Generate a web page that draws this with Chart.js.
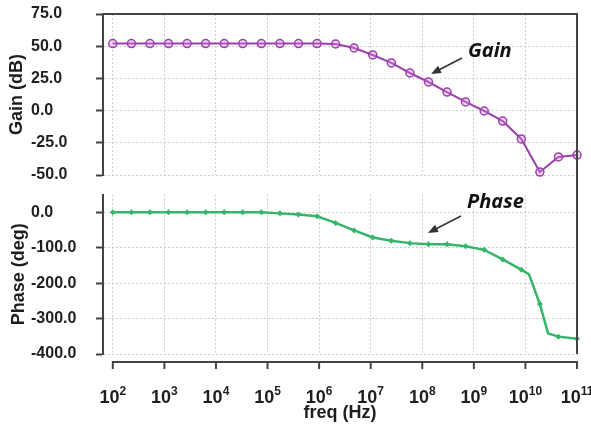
<!DOCTYPE html>
<html>
<head>
<meta charset="utf-8">
<script src="https://cdn.jsdelivr.net/npm/chart.js@4.4.0/dist/chart.umd.min.js"></script>
<style>
  body { margin: 0; background: #fff; }
  #wrap { position: relative; width: 591px; height: 426px; }
  #gainChart { position: absolute; left: 0; top: 0; }
  #phaseChart { position: absolute; left: 0; top: 185px; }
</style>
</head>
<body>
<div id="wrap">
  <canvas id="gainChart" width="591" height="185"></canvas>
  <canvas id="phaseChart" width="591" height="241"></canvas>
</div>
<script>
// x values are log10(freq in Hz), one per marker
var logFreq = [2.00, 2.36, 2.72, 3.08, 3.44, 3.80, 4.16, 4.52, 4.88, 5.24, 5.60, 5.96, 6.32,
               6.68, 7.04, 7.40, 7.76, 8.12, 8.48, 8.84, 9.20, 9.56, 9.92, 10.28, 10.64, 11.00];
var gainDb = [52, 52, 52, 52, 52, 52, 52, 52, 52, 52, 52, 52, 51.7,
              48.6, 43.2, 37.0, 29.2, 22.2, 14.4, 6.7, -0.3, -8.1, -22.0, -47.7, -36.0, -34.5];
var phaseDeg = [0, 0, 0, 0, 0, 0, 0, 0, 0, -3, -6, -11, -30,
                -51, -71, -80, -87, -90, -90, -96, -106, -133, -162, -259, -351, -357];
// line-only points where the phase curve bends
var phaseBendFreq = [10.07, 10.44];
var phaseBendDeg = [-175, -342];

var decades = [2, 3, 4, 5, 6, 7, 8, 9, 10, 11];
var gainTicks = [-50, -25, 0, 25, 50, 75];
var phaseTicks = [-400, -300, -200, -100, 0];

var gainColor = '#9c3fae';
var phaseColor = '#35b56a';
var gridColor = 'rgba(210,195,195,0.9)';
var axisColor = '#444';
var textColor = '#1e1e1e';
var sans = '"Liberation Sans", Arial, sans-serif';

var gainPoints = logFreq.map(function (f, i) { return { x: f, y: gainDb[i] }; });
var phasePoints = logFreq.map(function (f, i) { return { x: f, y: phaseDeg[i], mark: true }; });
phaseBendFreq.forEach(function (f, i) { phasePoints.push({ x: f, y: phaseBendDeg[i], mark: false }); });
phasePoints.sort(function (a, b) { return a.x - b.x; });

function xScale(hidden) {
  return {
    type: 'linear', min: 1.81, max: 11,
    afterBuildTicks: function (s) { s.ticks = decades.map(function (v) { return { value: v }; }); },
    afterFit: function (s) { s.height = hidden ? 0 : 72; },
    ticks: { display: false },
    grid: { color: gridColor, drawTicks: false },
    border: { display: false, dash: [2, 2] },
    title: {
      display: !hidden, text: 'freq (Hz)', color: textColor,
      font: { family: sans, size: 18, weight: 'bold' }, padding: { top: 0, bottom: 2 }
    }
  };
}

function yScale(min, max, ticks, label, titlePad) {
  return {
    min: min, max: max,
    afterBuildTicks: function (s) { s.ticks = ticks.map(function (v) { return { value: v }; }); },
    afterFit: function (s) { s.width = 72; },
    ticks: {
      crossAlign: 'far', padding: 0, color: textColor,
      font: { family: sans, size: 16, weight: 'bold' },
      callback: function (v) { return v.toFixed(1); }
    },
    grid: { color: gridColor, tickLength: 7, tickColor: axisColor, tickWidth: 2, tickBorderDash: [] },
    border: { display: true, color: axisColor, width: 2, dash: [2, 2] },
    title: {
      display: true, text: label, color: textColor,
      font: { family: sans, size: 18, weight: 'bold' }, padding: { top: titlePad, bottom: 0 }
    }
  };
}

function arrow(ctx, x1, y1, x2, y2) {
  var a = Math.atan2(y2 - y1, x2 - x1);
  ctx.beginPath();
  ctx.moveTo(x1, y1);
  ctx.lineTo(x2 - 6 * Math.cos(a), y2 - 6 * Math.sin(a));
  ctx.stroke();
  ctx.beginPath();
  ctx.moveTo(x2, y2);
  ctx.lineTo(x2 - 10 * Math.cos(a) + 4 * Math.sin(a), y2 - 10 * Math.sin(a) - 4 * Math.cos(a));
  ctx.lineTo(x2 - 10 * Math.cos(a) - 4 * Math.sin(a), y2 - 10 * Math.sin(a) + 4 * Math.cos(a));
  ctx.closePath();
  ctx.fill();
}

var gainFrame = {
  id: 'gainFrame',
  afterDraw: function (chart) {
    var ctx = chart.ctx, a = chart.chartArea;
    ctx.save();
    ctx.strokeStyle = axisColor;
    ctx.lineWidth = 2;
    ctx.beginPath();
    ctx.moveTo(a.left, a.top);
    ctx.lineTo(a.right, a.top);
    ctx.lineTo(a.right, chart.height);
    ctx.stroke();
    ctx.fillStyle = '#111';
    ctx.font = 'bold italic 20px "Open Sans", sans-serif';
    ctx.fillText('Gain', 468, 57);
    ctx.strokeStyle = '#333';
    ctx.fillStyle = '#333';
    ctx.lineWidth = 1.5;
    arrow(ctx, 462, 58, 431, 74);
    ctx.restore();
  }
};

var phaseFrame = {
  id: 'phaseFrame',
  afterDraw: function (chart) {
    var ctx = chart.ctx, a = chart.chartArea, x = chart.scales.x;
    var axisY = a.bottom + 8;
    ctx.save();
    ctx.strokeStyle = axisColor;
    ctx.lineWidth = 2;
    ctx.beginPath();
    ctx.moveTo(a.right, 0);
    ctx.lineTo(a.right, a.bottom);
    ctx.stroke();
    ctx.beginPath();
    ctx.moveTo(x.getPixelForValue(decades[0]), axisY);
    ctx.lineTo(a.right, axisY);
    ctx.stroke();
    ctx.fillStyle = textColor;
    decades.forEach(function (d) {
      var px = x.getPixelForValue(d);
      ctx.beginPath();
      ctx.moveTo(px, axisY - 1);
      ctx.lineTo(px, axisY + 7);
      ctx.stroke();
      ctx.font = 'bold 18px ' + sans;
      var w1 = ctx.measureText('10').width;
      ctx.font = 'bold 12px ' + sans;
      var w2 = ctx.measureText(String(d)).width;
      var left = px - (w1 + w2) / 2;
      ctx.font = 'bold 18px ' + sans;
      ctx.fillText('10', left, axisY + 41);
      ctx.font = 'bold 12px ' + sans;
      ctx.fillText(String(d), left + w1, axisY + 33);
    });
    ctx.fillStyle = '#111';
    ctx.font = 'bold italic 20px "Open Sans", sans-serif';
    ctx.fillText('Phase', 467, 23);
    ctx.strokeStyle = '#333';
    ctx.fillStyle = '#333';
    ctx.lineWidth = 1.5;
    arrow(ctx, 461, 31, 428, 48);
    ctx.restore();
  }
};

var common = {
  responsive: false,
  animation: false,
  devicePixelRatio: 1,
  plugins: { legend: { display: false }, tooltip: { enabled: false } }
};

new Chart(document.getElementById('gainChart'), {
  type: 'line',
  data: {
    datasets: [{
      data: gainPoints,
      borderColor: gainColor,
      borderWidth: 2,
      pointStyle: 'circle',
      pointRadius: 4,
      pointBorderWidth: 1.5,
      pointBorderColor: gainColor,
      pointBackgroundColor: 'rgba(205,140,215,0.35)',
      tension: 0,
      clip: false
    }]
  },
  options: Object.assign({}, common, {
    layout: { padding: { left: 31, right: 14, top: 14, bottom: 10 } },
    scales: {
      x: xScale(true),
      y: yScale(-50, 75, gainTicks, 'Gain (dB)', -25)
    }
  }),
  plugins: [gainFrame]
});

new Chart(document.getElementById('phaseChart'), {
  type: 'line',
  data: {
    datasets: [{
      data: phasePoints,
      borderColor: phaseColor,
      borderWidth: 2.5,
      pointStyle: 'rectRot',
      pointRadius: function (c) { return c.raw && c.raw.mark ? 3 : 0; },
      pointBorderWidth: 0,
      pointBackgroundColor: phaseColor,
      tension: 0,
      clip: false
    }]
  },
  options: Object.assign({}, common, {
    layout: { padding: { left: 31, right: 14, top: 5, bottom: 0 } },
    scales: {
      x: xScale(false),
      y: yScale(-400, 50, phaseTicks, 'Phase (deg)', -23)
    }
  }),
  plugins: [phaseFrame]
});
</script>
</body>
</html>
